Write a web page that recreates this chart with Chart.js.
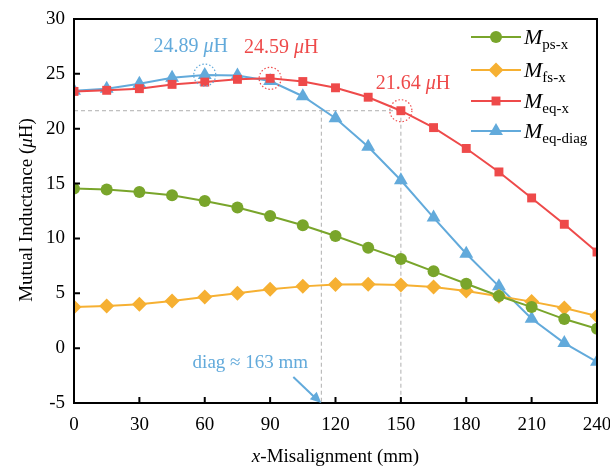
<!DOCTYPE html>
<html><head><meta charset="utf-8">
<script src="https://cdn.jsdelivr.net/npm/chart.js@4.4.1/dist/chart.umd.min.js"></script>
<style>html,body{margin:0;padding:0;background:#fff}#wrap{width:610px;height:470px}</style>
</head><body><div id="wrap"><canvas id="c" width="610" height="470"></canvas></div>
<script>
const xValues = [0,15,30,45,60,75,90,105,120,135,150,165,180,195,210,225,240];
const M_ps_x = [14.54,14.45,14.24,13.93,13.42,12.81,12.05,11.2,10.22,9.16,8.12,7.0,5.87,4.75,3.74,2.65,1.76];
const M_fs_x = [3.74,3.84,3.99,4.29,4.66,5.0,5.36,5.63,5.79,5.82,5.76,5.57,5.2,4.72,4.24,3.65,2.92];
const M_eq_x = [23.4,23.5,23.65,24.04,24.25,24.5,24.59,24.3,23.73,22.87,21.64,20.1,18.2,16.06,13.69,11.29,8.76];
const M_eq_diag = [23.45,23.65,24.1,24.65,24.89,24.85,24.35,22.96,20.96,18.35,15.3,11.9,8.6,5.63,2.68,0.46,-1.25];
const seriesNames = [['M','ps-x'],['M','fs-x'],['M','eq-x'],['M','eq-diag']];
const xTicks = [0,30,60,90,120,150,180,210,240];
const yTicks = [-5,0,5,10,15,20,25,30];
const refLevel = 21.64;     // eq-x value at 150 mm
const diagCross = 113.5;    // x where eq-diag crosses refLevel

const GREEN='#79A52B', ORANGE='#F6B032', RED='#EE4A4A', BLUE='#62AADB';
const SERIF='"Liberation Serif","Times New Roman",serif';

function mk(vals){return xValues.map((x,i)=>({x:x,y:vals[i]}));}
const dsDefs=[
 {data:mk(M_ps_x),color:GREEN,style:'circle',r:6},
 {data:mk(M_fs_x),color:ORANGE,style:'rectRot',r:7.5},
 {data:mk(M_eq_x),color:RED,style:'rect',r:6.3},
 {data:mk(M_eq_diag),color:BLUE,style:'triangle',r:8}
];

function rich(ctx,parts,x,y,align){
  let w=0;
  parts.forEach(p=>{ctx.font=p.f;w+=ctx.measureText(p.t).width;});
  let cx = align==='center'? x-w/2 : (align==='right'? x-w : x);
  parts.forEach(p=>{ctx.font=p.f;ctx.textAlign='left';ctx.fillText(p.t,cx,y+(p.dy||0));cx+=ctx.measureText(p.t).width;});
}

const deco={
 id:'deco',
 beforeDatasetsDraw(chart){
  const {ctx,scales:{x,y}}=chart;
  ctx.save();
  ctx.strokeStyle='#AFAFAF';ctx.lineWidth=1;ctx.setLineDash([4,3]);
  const yr=y.getPixelForValue(refLevel), yb=y.getPixelForValue(-5);
  ctx.beginPath();
  ctx.moveTo(x.getPixelForValue(0),yr);ctx.lineTo(x.getPixelForValue(150),yr);
  ctx.moveTo(x.getPixelForValue(150),yr);ctx.lineTo(x.getPixelForValue(150),yb);
  ctx.moveTo(x.getPixelForValue(diagCross),yr);ctx.lineTo(x.getPixelForValue(diagCross),yb);
  ctx.stroke();
  ctx.restore();
 },
 afterDraw(chart){
  const {ctx,chartArea:a,scales:{x,y}}=chart;
  ctx.save();
  // frame
  ctx.strokeStyle='#000';ctx.lineWidth=2;ctx.setLineDash([]);
  ctx.strokeRect(a.left,a.top,a.right-a.left,a.bottom-a.top);
  // inward ticks
  ctx.beginPath();
  xTicks.forEach(v=>{const px=x.getPixelForValue(v);ctx.moveTo(px,a.bottom);ctx.lineTo(px,a.bottom-6);});
  yTicks.forEach(v=>{const py=y.getPixelForValue(v);ctx.moveTo(a.left,py);ctx.lineTo(a.left+6,py);});
  ctx.stroke();
  // dotted circles
  ctx.lineWidth=1.2;ctx.setLineDash([1.5,2]);
  [[60,M_eq_diag[4],BLUE],[90,M_eq_x[6],RED],[150,M_eq_x[10],RED]].forEach(c=>{
    ctx.strokeStyle=c[2];ctx.beginPath();
    ctx.arc(x.getPixelForValue(c[0]),y.getPixelForValue(c[1]),11,0,Math.PI*2);ctx.stroke();
  });
  ctx.setLineDash([]);
  // value labels
  ctx.textBaseline='middle';
  const fN='20px '+SERIF, fI='italic 20px '+SERIF;
  ctx.fillStyle=BLUE;
  rich(ctx,[{t:M_eq_diag[4].toFixed(2)+' ',f:fN},{t:'\u03bc',f:fI},{t:'H',f:fN}],x.getPixelForValue(60)-14,y.getPixelForValue(M_eq_diag[4])-28,'center');
  ctx.fillStyle=RED;
  rich(ctx,[{t:M_eq_x[6].toFixed(2)+' ',f:fN},{t:'\u03bc',f:fI},{t:'H',f:fN}],x.getPixelForValue(90)+11,y.getPixelForValue(M_eq_x[6])-31,'center');
  rich(ctx,[{t:M_eq_x[10].toFixed(2)+' ',f:fN},{t:'\u03bc',f:fI},{t:'H',f:fN}],x.getPixelForValue(150)+12,y.getPixelForValue(M_eq_x[10])-27,'center');
  // diag label and arrow
  ctx.fillStyle=BLUE;
  rich(ctx,[{t:'diag \u2248 163 mm',f:'19px '+SERIF}],x.getPixelForValue(diagCross)-71,y.getPixelForValue(-1.35),'center');
  const hx=x.getPixelForValue(diagCross), hy=y.getPixelForValue(-5);
  const tx=hx-28, ty=hy-26;
  ctx.strokeStyle=BLUE;ctx.lineWidth=2;
  ctx.beginPath();ctx.moveTo(tx,ty);ctx.lineTo(hx-6,hy-5);ctx.stroke();
  const ang=Math.atan2(hy-ty,hx-tx);
  ctx.beginPath();ctx.moveTo(hx,hy);
  ctx.lineTo(hx-11*Math.cos(ang)+5*Math.sin(ang),hy-11*Math.sin(ang)-5*Math.cos(ang));
  ctx.lineTo(hx-11*Math.cos(ang)-5*Math.sin(ang),hy-11*Math.sin(ang)+5*Math.cos(ang));
  ctx.closePath();ctx.fill();
  // legend
  const rows=[37,70,101,131];
  dsDefs.forEach((d,i)=>{
    const yy=rows[i];
    ctx.strokeStyle=d.color;ctx.lineWidth=2;
    ctx.beginPath();ctx.moveTo(471,yy);ctx.lineTo(521,yy);ctx.stroke();
    ctx.fillStyle=d.color;
    Chart.helpers.drawPoint(ctx,{pointStyle:d.style,radius:d.r,borderWidth:0,rotation:0},496,yy);
    ctx.fillStyle='#000';ctx.textBaseline='alphabetic';
    rich(ctx,[{t:seriesNames[i][0],f:'italic 22px '+SERIF},{t:seriesNames[i][1],f:'15px '+SERIF,dy:5}],524,yy+7,'left');
  });
  // axis titles
  ctx.fillStyle='#000';ctx.textBaseline='middle';
  rich(ctx,[{t:'x',f:'italic 19px '+SERIF},{t:'-Misalignment (mm)',f:'19px '+SERIF}],(a.left+a.right)/2,457,'center');
  ctx.translate(27,(a.top+a.bottom)/2-1);ctx.rotate(-Math.PI/2);
  rich(ctx,[{t:'Mutual Inductance (',f:'19px '+SERIF},{t:'\u03bc',f:'italic 19px '+SERIF},{t:'H)',f:'19px '+SERIF}],0,0,'center');
  ctx.restore();
 }
};

new Chart(document.getElementById('c'),{
 type:'line',
 data:{datasets:dsDefs.map((d,i)=>({label:seriesNames[i].join(' '),data:d.data,borderColor:d.color,backgroundColor:d.color,
   pointBackgroundColor:d.color,pointBorderWidth:0,pointStyle:d.style,pointRadius:d.r,borderWidth:2,tension:0}))},
 options:{
  responsive:false,animation:false,
  layout:{padding:{top:19,right:13,left:0,bottom:0}},
  plugins:{legend:{display:false},tooltip:{enabled:false}},
  scales:{
   x:{type:'linear',min:0,max:240,
      afterBuildTicks:s=>{s.ticks=xTicks.map(v=>({value:v}));},
      afterFit:s=>{s.height=67;s.paddingLeft=0;s.paddingRight=0;},
      grid:{display:false,drawTicks:false},border:{display:true,color:'#000',width:2},
      ticks:{color:'#000',font:{family:SERIF,size:19},padding:11,maxRotation:0}},
   y:{min:-5,max:30,
      afterBuildTicks:s=>{s.ticks=yTicks.map(v=>({value:v}));},
      afterFit:s=>{s.width=74;s.paddingTop=0;s.paddingBottom=0;},
      grid:{display:false,drawTicks:false},border:{display:true,color:'#000',width:2},
      ticks:{color:'#000',font:{family:SERIF,size:19},padding:9}}
  }
 },
 plugins:[deco]
});
</script></body></html>
